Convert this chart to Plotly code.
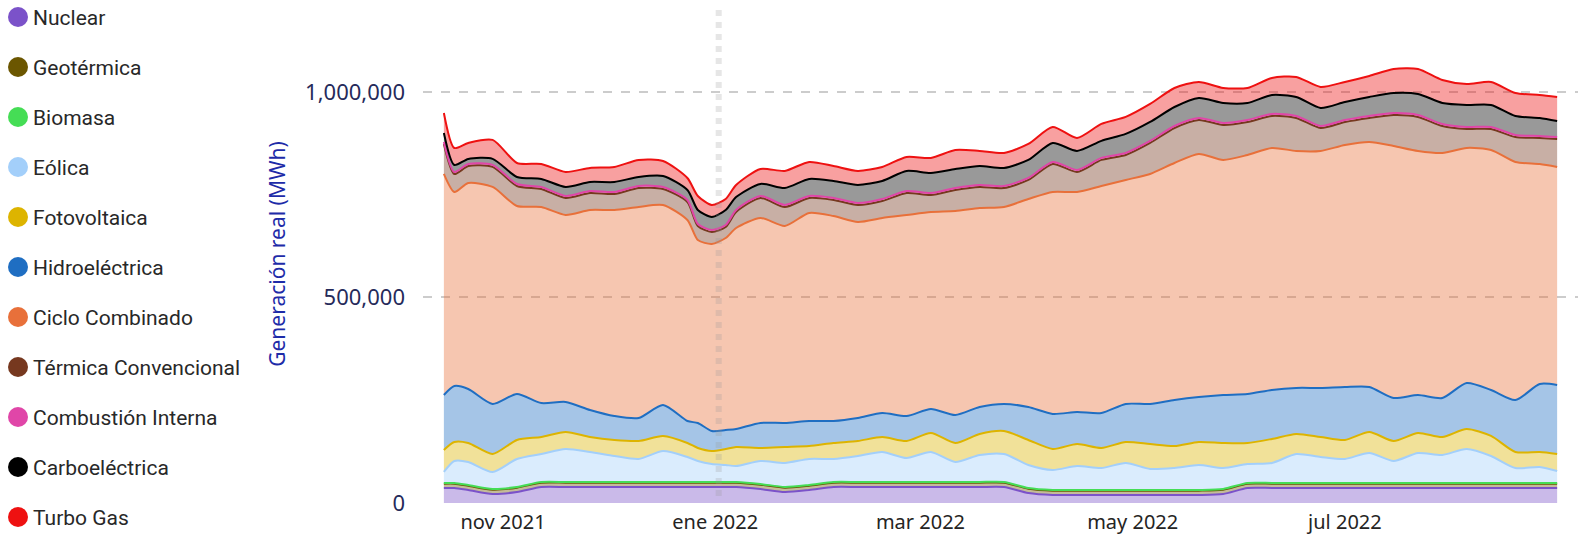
import plotly.graph_objects as go

dates = ["2021-10-15", "2021-10-18", "2021-10-22", "2021-10-29", "2021-11-05", "2021-11-12",
         "2021-11-19", "2021-11-26", "2021-12-03", "2021-12-10", "2021-12-17", "2021-12-24",
         "2021-12-27", "2021-12-31", "2022-01-04", "2022-01-07", "2022-01-14", "2022-01-21",
         "2022-01-28", "2022-02-04", "2022-02-11", "2022-02-18", "2022-02-25", "2022-03-04",
         "2022-03-11", "2022-03-18", "2022-03-25", "2022-04-01", "2022-04-08", "2022-04-15",
         "2022-04-22", "2022-04-29", "2022-05-06", "2022-05-13", "2022-05-20", "2022-05-27",
         "2022-06-03", "2022-06-10", "2022-06-17", "2022-06-24", "2022-07-01", "2022-07-08",
         "2022-07-15", "2022-07-22", "2022-07-29", "2022-08-05", "2022-08-12", "2022-08-19",
         "2022-08-26", "2022-08-31"]

nuclear = [36500, 36500, 31600, 21900, 26800, 38900, 38900, 38900, 38900, 38900, 38900, 38900,
           38900, 38900, 38900, 38900, 34100, 26800, 31600, 38900, 38900, 38900, 38900, 38900,
           38900, 38900, 38900, 24300, 19500, 19500, 19500, 19500, 19500, 19500, 19500, 21900,
           36500, 36500, 36500, 36500, 36500, 36500, 36500, 36500, 36500, 36500, 36500, 36500,
           36500, 36500]

geotermica = [10500, 10500, 10500, 10500, 10500, 10500, 10500, 10500, 10500, 10500,
              10500, 10500, 10500, 10500, 10500, 10500, 10500, 10500, 10500, 10500, 10500, 10500,
              10500, 10500, 10500, 10500, 10500, 10500, 10500, 10500, 10500, 10500, 10500, 10500,
              10500, 10500, 10500, 10500, 10500, 10500, 10500, 10500, 10500, 10500, 10500, 10500,
              10500, 10500, 10500, 10500]

biomasa = [1700, 1700, 1700, 1700, 1700, 1700, 1700, 1700, 1700, 1700, 1700, 1700, 1700, 1700,
           1700, 1700, 1700, 1700, 1700, 1700, 1700, 1700, 1700, 1700, 1700, 1700, 1700, 1700,
           1700, 1700, 1700, 1700, 1700, 1700, 1700, 1700, 1700, 1700, 1700, 1700, 1700, 1700,
           1700, 1700, 1700, 1700, 1700, 1700, 1700, 1700]

eolica = [26800, 53500, 56000, 41400, 68100, 68100, 80300, 73000, 63300, 56000, 75400, 60800,
          51100, 43800, 41400, 38900, 56000, 58400, 63300, 56000, 63300, 73000, 58400, 73000,
          48700, 65700, 68100, 56000, 48700, 58400, 53500, 65700, 51100, 53500, 60800, 51100,
          46200, 48700, 70600, 63300, 58400, 73000, 53500, 73000, 68100, 82700, 65700, 36500,
          38900, 29200]

fotovoltaica = [53500, 46200, 46200, 43800, 46200, 41400, 41400, 36500, 38900, 43800, 36500, 34100,
                31600, 31600, 38900, 46200, 31600, 38900, 31600, 38900, 36500, 36500, 41400, 46200,
                46200, 51100, 56000, 60800, 51100, 53500, 48700, 51100, 60800, 53500, 56000, 60800,
                51100, 58400, 48700, 48700, 46200, 51100, 48700, 48700, 43800, 48700, 48700, 38900,
                36500, 41400]

hidroelectrica = [133800, 136200, 131400, 121700, 111900, 82700, 73000, 65700, 58400, 56000, 75400,
                  53500, 60800, 48700, 46200, 43800, 60800, 58400, 60800, 53500, 56000, 58400,
                  60800, 58400, 68100, 65700, 65700, 80300, 85200, 77900, 85200, 92500, 97300,
                  111900, 109500, 116800, 119200, 119200, 111900, 119200, 128900, 109500, 104600,
                  92500, 94900, 111900, 111900, 126500, 165400, 167900]

ciclo_combinado = [537700, 472000, 501200, 528000, 457400, 476900, 455000, 486600, 501200, 513400,
                   486600, 489000, 445200, 455000, 467100, 489000, 498800, 479300, 506100, 498800,
                   476900, 474400, 489000, 479300, 496300, 484200, 479300, 506100, 540100, 535300,
                   552300, 545000, 559600, 576600, 591200, 571800, 581500, 588800, 576600, 576600,
                   588800, 596100, 613100, 593700, 596100, 571800, 583900, 579100, 535300, 530400]

termica_convencional = [73000, 43800, 41400, 48700, 48700, 43800, 41400, 41400, 38900, 46200, 38900,
                        43800, 34100, 29200, 26800, 38900, 48700, 46200, 36500, 38900, 41400, 41400,
                        53500, 41400, 51100, 51100, 46200, 46200, 68100, 48700, 63300, 60800, 75400,
                        85200, 82700, 85200, 80300, 77900, 80300, 56000, 56000, 58400, 75400, 82700,
                        65700, 46200, 51100, 60800, 63300, 68100]

combustion_interna = [4900, 4900, 4900, 4900, 4900, 4900, 4900, 4900, 4900, 4900, 4900, 4900, 4900,
                      4900, 4900, 4900, 4900, 4900, 4900, 4900, 4900, 4900, 4900, 4900, 4900, 4900,
                      4900, 4900, 4900, 4900, 4900, 4900, 4900, 4900, 4900, 4900, 4900, 4900, 4900,
                      4900, 4900, 4900, 4900, 4900, 4900, 4900, 4900, 4900, 4900, 4900]

carboelectrica = [21900, 17000, 12200, 14600, 17000, 19500, 21900, 21900, 24300, 21900, 26800, 24300,
                  34100, 31600, 36500, 31600, 29200, 41400, 41400, 41400, 43800, 43800, 48700, 48700,
                  46200, 46200, 43800, 43800, 46200, 46200, 41400, 46200, 46200, 46200, 48700, 48700,
                  41400, 46200, 46200, 43800, 43800, 46200, 48700, 51100, 51100, 53500, 53500, 46200,
                  43800, 38900]

turbo_gas = [48700, 41400, 38900, 46200, 34100, 36500, 36500, 34100, 36500, 41400, 36500, 29200,
             34100, 29200, 26800, 29200, 36500, 41400, 41400, 36500, 34100, 34100, 34100, 36500,
             46200, 36500, 36500, 38900, 38900, 31600, 41400, 41400, 43800, 46200, 38900, 36500,
             36500, 41400, 48700, 51100, 48700, 51100, 58400, 60800, 56000, 51100, 56000, 56000,
             56000, 58400]

names = ["Nuclear", "Geotérmica", "Biomasa", "Eólica", "Fotovoltaica", "Hidroeléctrica",
         "Ciclo Combinado", "Térmica Convencional", "Combustión Interna", "Carboeléctrica",
         "Turbo Gas"]
values = [nuclear, geotermica, biomasa, eolica, fotovoltaica, hidroelectrica, ciclo_combinado,
          termica_convencional, combustion_interna, carboelectrica, turbo_gas]
colors = ["#7B52C9", "#6B5600", "#45DD55", "#A3CFFA", "#DDB400", "#1F6EC2", "#E8703A",
          "#76381F", "#E046A8", "#000000", "#EE1111"]

tick_dates = ["2021-11-01", "2022-01-01", "2022-03-01", "2022-05-01", "2022-07-01"]
tick_text = ["nov 2021", "ene 2022", "mar 2022", "may 2022", "jul 2022"]

# layout geometry (pixels)
W, H = 1582, 540
ML, MR, MT, MB = 423, 4, 5, 37
PW, PH = W - ML - MR, H - MT - MB


def px_to_paper_x(px):
    return (px - ML) / PW


def px_to_paper_y(py):
    return (H - MB - py) / PH


def rgba(hex_color, a):
    h = hex_color.lstrip("#")
    r, g, b = int(h[0:2], 16), int(h[2:4], 16), int(h[4:6], 16)
    return f"rgba({r},{g},{b},{a})"


fig = go.Figure()
for name, vals, col in zip(names, values, colors):
    fig.add_trace(go.Scatter(
        x=dates, y=vals, name=name, stackgroup="one", mode="lines",
        line=dict(color=col, width=2, shape="spline", smoothing=0.7),
        fillcolor=rgba(col, 0.4), showlegend=False,
    ))

# manual legend (circle + label), top to bottom
shapes = []
annotations = []
for i, (name, col) in enumerate(zip(names, colors)):
    cy = 17 + 50 * i
    shapes.append(dict(
        type="circle", xref="paper", yref="paper", xsizemode="pixel", ysizemode="pixel",
        xanchor=px_to_paper_x(18), yanchor=px_to_paper_y(cy),
        x0=-10, x1=10, y0=-10, y1=10, fillcolor=col, line=dict(width=0), layer="above",
    ))
    annotations.append(dict(
        text=name, xref="paper", yref="paper", x=px_to_paper_x(31), y=px_to_paper_y(cy + 1),
        xanchor="left", yanchor="middle", showarrow=False,
        font=dict(family="Roboto", size=21, color="#282828"),
    ))

shapes.append(dict(
    type="line", xref="x", yref="paper", x0="2022-01-02", x1="2022-01-02",
    y0=px_to_paper_y(496), y1=1, line=dict(color="rgba(150,150,150,0.24)", width=6, dash="6px,6px"),
    layer="above",
))

fig.update_layout(
    width=W, height=H,
    margin=dict(l=ML, r=MR, t=MT, b=MB, autoexpand=False),
    plot_bgcolor="white", paper_bgcolor="white",
    font=dict(family="Noto Sans", color="#252423"),
    showlegend=False,
    shapes=shapes, annotations=annotations,
    xaxis=dict(
        type="date", range=["2021-10-09", "2022-09-06"],
        tickvals=tick_dates, ticktext=tick_text, showgrid=False, zeroline=False,
        showline=False, ticks="", tickfont=dict(family="Noto Sans", size=20, color="#252423"),
        ticklabelstandoff=5, automargin=False,
    ),
    yaxis=dict(
        range=[0, 1211600], tickvals=[0, 500000, 1000000], tickformat=",",
        showgrid=True, gridcolor="#cccccc", gridwidth=2, griddash="dash",
        zeroline=False, showline=False, ticks="",
        tickfont=dict(family="Noto Sans", size=22, color="#252A5A"),
        ticklabelstandoff=17, automargin=False,
        title=dict(text="Generación real (MWh)", standoff=13,
                   font=dict(family="Noto Sans", size=21, color="#1E2BA8")),
    ),
)

fig.write_html(
    "out.html",
    config={"displayModeBar": False},
    post_script="document.body.style.margin='0';document.body.style.padding='0';",
)
